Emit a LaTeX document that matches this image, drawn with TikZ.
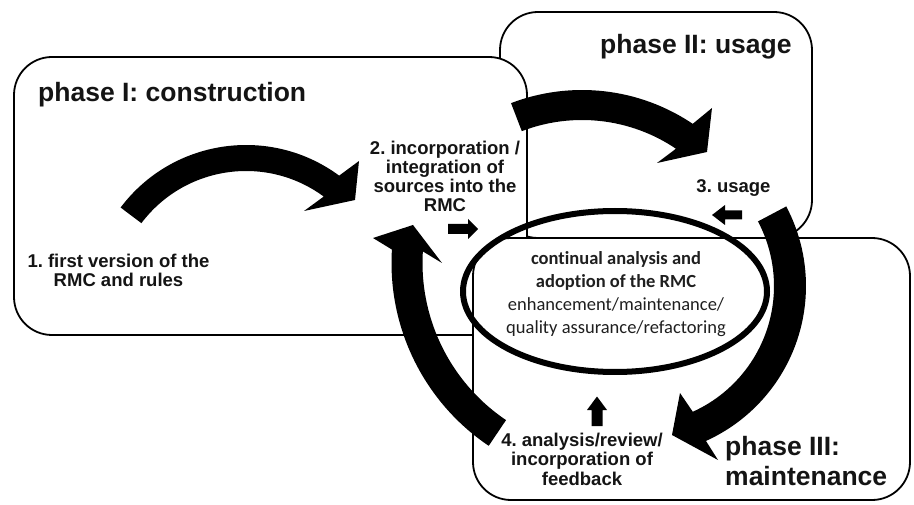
\documentclass[tikz,border=0pt]{standalone}
\usepackage{fontspec}
\setmainfont{Liberation Sans}
\newfontfamily\calibrifont{Carlito}[Ligatures={NoCommon}]
\usetikzlibrary{shapes.geometric}
\frenchspacing
\tikzset{
  phasebox/.style={draw=black, line width=1.8pt, fill=white, rounded corners=38pt, inner sep=0pt, outer sep=0pt},
  phaselabel/.style={font=\fontsize{26.5}{30}\selectfont\bfseries, inner sep=0pt, anchor=base west, align=left, text=black!92},
  steplabel/.style={font=\fontsize{18.5}{19.3}\selectfont\bfseries, inner sep=0pt, align=center, anchor=base, text=black!92},
  centrelabel/.style={font=\calibrifont\fontsize{18.5}{23}\selectfont, inner sep=0pt, align=center, anchor=base, text=black!88},
  centreellipse/.style={ellipse, draw=black, line width=6pt, inner sep=0pt},
  bigarrow/.style={fill=black},
  smallarrow/.style={fill=black}
}
\begin{document}
\frenchspacing
\begin{tikzpicture}[x=1pt,y=-1pt]
\useasboundingbox (0,0) rectangle (914,505);
% phase boxes
\node[phasebox, minimum width=312pt, minimum height=226pt] (p2) at (656,125) {};
\node[phasebox, minimum width=513pt, minimum height=278pt] (p1) at (270.5,196) {};
\node[phasebox, minimum width=437pt, minimum height=262pt] (p3) at (691.5,369) {};
% central ellipse
\node[centreellipse, minimum width=304pt, minimum height=161pt] (core) at (615,291.5) {};
% big curved arrows
\fill[bigarrow] ([shift={(246,302)}]-143:157) arc[start angle=-143, end angle=-53.6, radius=157]
  -- (359,161) -- (355,200) -- (304,211)
  -- ([shift={(246,302)}]-53.6:131) arc[start angle=-53.6, end angle=-143, radius=131] -- cycle;
\fill[bigarrow] ([shift={(582,288)}]-111:198) arc[start angle=-111, end angle=-56, radius=198]
  -- (712,108) -- (707,152) -- (657,163)
  -- ([shift={(582,288)}]-56:168) arc[start angle=-56, end angle=-111, radius=168] -- cycle;
\fill[bigarrow] ([shift={(636,286)}]-27.9:170) arc[start angle=-27.9, end angle=65.7, radius=170]
  -- (718,460) -- (672,435) -- (680,393)
  -- ([shift={(636,286)}]65.7:138) arc[start angle=65.7, end angle=-27.9, radius=138] -- cycle;
\fill[bigarrow] ([shift={(612,263)}]124:220.5) arc[start angle=124, end angle=183.5, radius=220.5]
  -- (373,238) -- (413,225) -- (442,263)
  -- ([shift={(612,263)}]183.5:189.5) arc[start angle=183.5, end angle=124, radius=189.5] -- cycle;
% small block arrows
\fill[smallarrow] (448,224) -- (468,224) -- (468,219) -- (478,229) -- (468,239) -- (468,234) -- (448,234) -- cycle;
\fill[smallarrow] (742,210.5) -- (725,210.5) -- (725,205) -- (712,215) -- (725,225) -- (725,219.5) -- (742,219.5) -- cycle;
\fill[smallarrow] (591.5,426) -- (591.5,410) -- (587,410) -- (597,396.5) -- (607,410) -- (602.5,410) -- (602.5,426) -- cycle;
% labels (base anchor = baseline of the last line)
\node[phaselabel] (t1) at (38,102) {phase I: construction};
\node[phaselabel] (t2) at (600,54) {phase II: usage};
\node[phaselabel] (t3) at (725,485) {phase III:\\maintenance};
\node[steplabel] (s1) at (118.5,287) {1. first version of the\\RMC and rules};
\node[steplabel] (s2) at (445,212) {2. incorporation /\\integration of\\sources into the\\RMC};
\node[steplabel] (s3) at (733.5,193) {3. usage};
\node[steplabel] (s4) at (582,485) {4. analysis/review/\\incorporation of\\feedback};
\node[centrelabel] (c1) at (616,334) {\textbf{continual analysis and}\\\textbf{adoption of the RMC}\\enhancement/maintenance/\\quality assurance/refactoring};
\end{tikzpicture}
\end{document}
